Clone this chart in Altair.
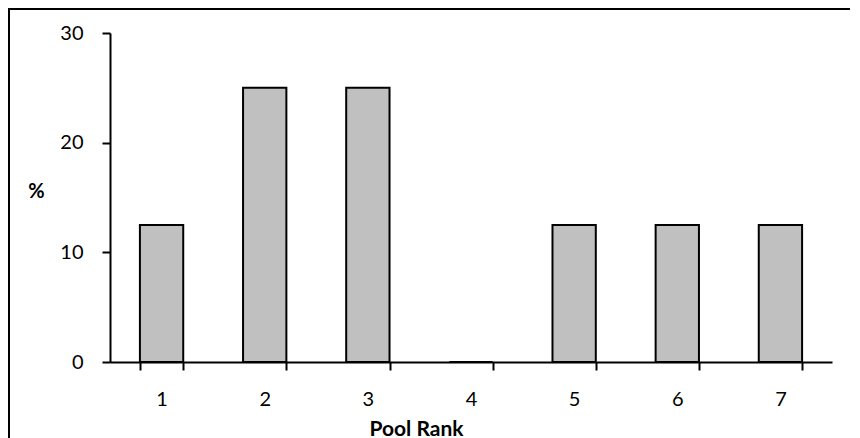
import altair as alt
import pandas as pd

ranks = ["1", "2", "3", "4", "5", "6", "7"]
percent = [12.5, 25, 25, 0, 12.5, 12.5, 12.5]
y_ticks = [0, 10, 20, 30]

df = pd.DataFrame({"rank": ranks, "pct": percent})

FONT = "Lato"

bars = alt.Chart(df).mark_bar(
    color="#C0C0C0", stroke="black", strokeWidth=2
).encode(
    x=alt.X(
        "rank:N",
        sort=ranks,
        scale=alt.Scale(paddingInner=0.58, paddingOuter=0.29),
        axis=alt.Axis(
            title="Pool Rank",
            labelAngle=0,
            tickBand="extent",
            tickSize=8,
            labelBaseline="alphabetic",
            labelPadding=35,
            labelFontSize=20,
            titleFontWeight="bold",
            titleFontSize=21,
            titleAlign="center",
            titleBaseline="alphabetic",
            titleX=306,
            titleY=73,
        ),
    ),
    y=alt.Y(
        "pct:Q",
        scale=alt.Scale(domain=[0, 30]),
        axis=alt.Axis(
            values=y_ticks,
            title="%",
            titleAngle=0,
            titleAlign="center",
            titleBaseline="middle",
            titleX=-74,
            titleY=158,
            titleFontWeight="bold",
            titleFontSize=20,
            tickSize=8,
            labelPadding=19,
            labelFontSize=20,
            grid=False,
        ),
    ),
)

frame = alt.Chart(pd.DataFrame({"f": [0]})).mark_rect(
    filled=False, stroke="black", strokeWidth=2, clip=False
).encode(
    x=alt.value(-101),
    x2=alt.value(2000),
    y=alt.value(-24),
    y2=alt.value(2000),
)

chart = alt.layer(frame, bars).properties(
    width=722,
    height=329,
    padding={"left": 102, "top": 25, "right": 18, "bottom": 76},
    autosize=alt.AutoSizeParams(type="none"),
).configure_view(
    stroke=None
).configure_axis(
    domainColor="black",
    domainWidth=2,
    tickColor="black",
    tickWidth=2,
    labelColor="black",
    titleColor="black",
    labelFont=FONT,
    titleFont=FONT,
    grid=False,
)

chart.save("out.html", embed_options={"renderer": "svg", "actions": False})
